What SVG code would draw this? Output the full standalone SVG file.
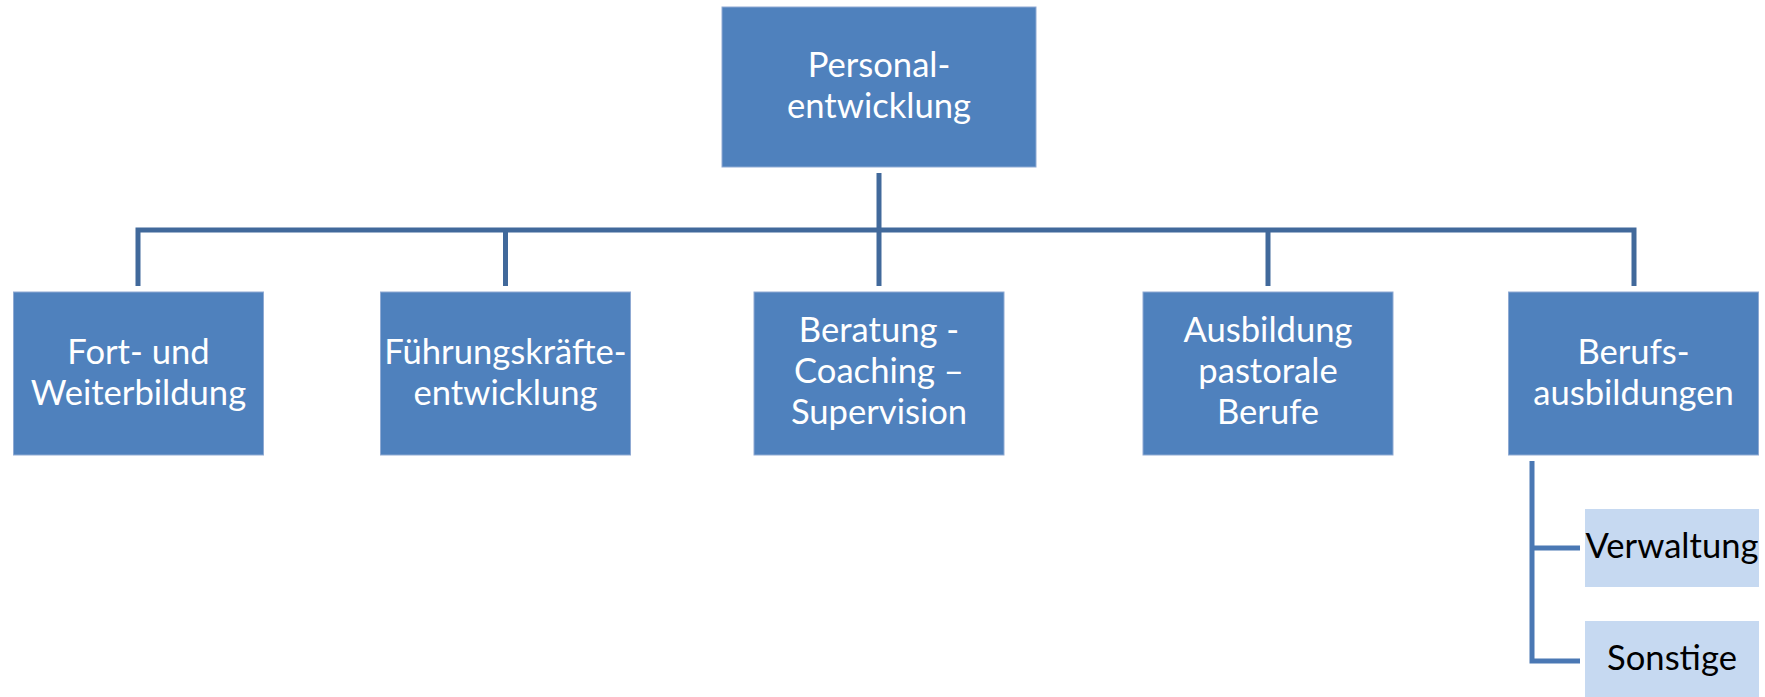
<svg xmlns="http://www.w3.org/2000/svg" width="1765" height="697" viewBox="0 0 1765 697">
<style>
.box{fill:#4F81BD;stroke:#8FAAD3;stroke-width:1}
.sub{fill:#C6D9F1}
.t{font-family:Lato,"Open Sans",sans-serif;font-size:34.6px;fill:#fff;text-anchor:middle}
.tb{font-family:Lato,"Open Sans",sans-serif;font-size:34.6px;fill:#000;text-anchor:middle}
.ln{stroke:#41699B;stroke-width:5;fill:none}
.ln2{stroke:#4A78B4;stroke-width:5;fill:none}
</style>
<rect width="1765" height="697" fill="#fff"/>
<g id="connectors">
<line class="ln" x1="879" y1="173" x2="879" y2="286"/>
<polyline class="ln" points="138,286 138,230 1634,230 1634,286"/>
<line class="ln" x1="505.5" y1="230" x2="505.5" y2="286"/>
<line class="ln" x1="1268" y1="230" x2="1268" y2="286"/>
<polyline class="ln2" points="1580,548 1532,548"/>
<polyline class="ln2" points="1532,461 1532,661 1580,661"/>
</g>
<g id="n-personal">
<rect class="box" x="722" y="7" width="314" height="160"/>
<text class="t" x="879" y="77">Personal-</text>
<text class="t" x="879" y="118">entwicklung</text>
</g>
<g id="n-fort">
<rect class="box" x="13.5" y="292" width="250" height="163"/>
<text class="t" x="138.5" y="364">Fort- und</text>
<text class="t" x="138.5" y="405">Weiterbildung</text>
</g>
<g id="n-fuehrung">
<rect class="box" x="380.5" y="292" width="250" height="163"/>
<text class="t" x="505.5" y="364">Führungskräfte-</text>
<text class="t" x="505.5" y="405">entwicklung</text>
</g>
<g id="n-beratung">
<rect class="box" x="754" y="292" width="250" height="163"/>
<text class="t" x="879" y="342">Beratung -</text>
<text class="t" x="879" y="383">Coaching –</text>
<text class="t" x="879" y="424">Supervision</text>
</g>
<g id="n-ausbildung">
<rect class="box" x="1143" y="292" width="250" height="163"/>
<text class="t" x="1268" y="342">Ausbildung</text>
<text class="t" x="1268" y="383">pastorale</text>
<text class="t" x="1268" y="424">Berufe</text>
</g>
<g id="n-berufs">
<rect class="box" x="1508.5" y="292" width="250" height="163"/>
<text class="t" x="1633.5" y="364">Berufs-</text>
<text class="t" x="1633.5" y="405">ausbildungen</text>
</g>
<g id="n-verwaltung">
<rect class="sub" x="1585" y="509" width="174" height="78"/>
<text class="tb" x="1672" y="558">Verwaltung</text>
</g>
<g id="n-sonstige">
<rect class="sub" x="1585" y="621" width="174" height="76"/>
<text class="tb" x="1672" y="670">Sonstige</text>
</g>
</svg>
